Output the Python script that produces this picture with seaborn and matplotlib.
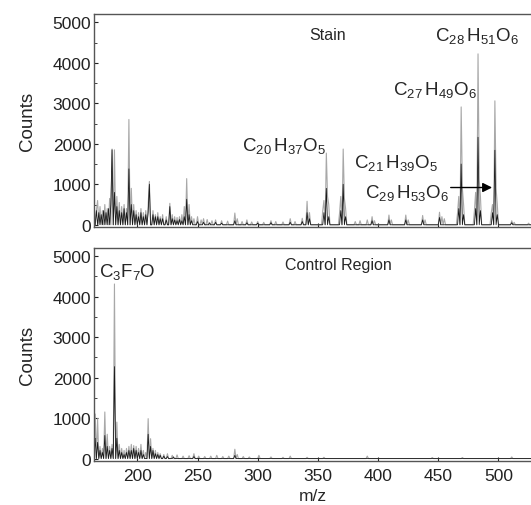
import matplotlib
matplotlib.use('Agg')

import matplotlib.pyplot as plt
import matplotlib.ticker as mticker
import seaborn as sns

sns.set_style('ticks')
plt.rcParams['font.family'] = ['Liberation Sans', 'DejaVu Sans']
plt.rcParams['mathtext.fontset'] = 'custom'
plt.rcParams['mathtext.rm'] = 'Liberation Sans'

# ---------------- data (m/z, counts) ----------------
stain_grey_mz = [166, 167, 169, 171, 173, 175, 177, 179, 181, 183, 185, 187, 189, 191,
                 193, 195, 197, 199, 201, 203, 205, 207, 209, 210, 213, 215, 217, 219,
                 221, 224, 227, 229, 231, 233, 235, 237, 239, 241, 243, 245, 247, 250,
                 253, 255, 258, 262, 265, 270, 275, 281, 283, 287, 291, 295, 300, 305,
                 311, 315, 321, 327, 331, 337, 341, 343, 354, 355, 357, 358, 359, 368,
                 369, 371, 372, 373, 381, 385, 391, 395, 397, 409, 411, 423, 425, 437,
                 439, 451, 453, 455, 466, 467, 469, 470, 471, 480, 481, 483, 484, 485,
                 494, 495, 497, 498, 499, 511, 513, 525]
stain_grey_counts = [350, 600, 450, 350, 500, 400, 650, 1870, 1850, 700, 550, 450, 500, 400,
                     2600, 900, 500, 350, 300, 400, 300, 350, 500, 1070, 350, 250, 300, 200,
                     250, 200, 530, 250, 200, 180, 200, 250, 450, 1140, 500, 200, 150, 200,
                     120, 150, 130, 100, 120, 100, 90, 290, 150, 80, 120, 70, 80, 60,
                     100, 80, 70, 150, 80, 160, 580, 300, 350, 600, 1770, 700, 500, 300,
                     700, 1870, 650, 400, 80, 100, 120, 200, 100, 240, 120, 240, 120, 230,
                     120, 310, 200, 150, 300, 700, 2910, 900, 500, 350, 800, 4220, 1100, 700,
                     300, 500, 3060, 900, 500, 100, 60, 40]

stain_black_mz = [166, 168, 170, 172, 174, 176, 178, 179, 181, 183, 185, 187, 189, 191,
                  193, 195, 197, 199, 201, 203, 205, 207, 209, 210, 213, 215, 217, 219,
                  221, 224, 227, 229, 231, 233, 235, 237, 239, 241, 243, 245, 250, 255,
                  260, 265, 270, 281, 291, 300, 311, 327, 337, 341, 343, 355, 357, 359,
                  369, 371, 373, 395, 409, 423, 437, 451, 467, 469, 471, 481, 483, 485,
                  495, 497, 499, 511]
stain_black_counts = [350, 300, 250, 350, 300, 400, 500, 1850, 800, 450, 350, 300, 400, 300,
                      1380, 500, 350, 250, 200, 300, 200, 250, 300, 1000, 250, 200, 200, 150,
                      150, 120, 450, 150, 120, 100, 130, 100, 200, 630, 250, 100, 80, 60,
                      50, 60, 40, 100, 50, 40, 50, 60, 80, 300, 150, 300, 900, 200,
                      350, 1000, 200, 100, 120, 120, 120, 180, 400, 1500, 250, 400, 2160, 350,
                      300, 1840, 250, 50]

control_grey_mz = [165, 167, 169, 171, 173, 175, 177, 179, 181, 183, 185, 187, 189, 191,
                   193, 195, 197, 199, 201, 203, 205, 207, 209, 211, 213, 215, 217, 219,
                   222, 225, 229, 233, 238, 243, 247, 251, 256, 261, 266, 271, 276, 281,
                   283, 288, 293, 301, 311, 321, 327, 341, 355, 391, 445, 470, 511]
control_grey_counts = [1100, 985, 300, 250, 1150, 600, 300, 350, 4310, 900, 350, 250, 200, 250,
                       300, 350, 320, 300, 250, 350, 200, 150, 985, 490, 250, 200, 150, 120,
                       100, 120, 80, 90, 60, 70, 120, 60, 50, 60, 80, 50, 60, 230,
                       100, 50, 40, 80, 40, 30, 60, 30, 30, 60, 25, 25, 40]

control_black_mz = [165, 167, 169, 171, 173, 175, 177, 179, 181, 183, 185, 187, 189, 191,
                    193, 195, 197, 199, 201, 203, 205, 209, 211, 213, 215, 217, 219, 222,
                    225, 230, 247, 281]
control_black_counts = [500, 400, 200, 150, 570, 300, 200, 250, 2270, 500, 200, 150, 100, 150,
                        200, 200, 250, 200, 150, 200, 100, 600, 300, 200, 120, 100, 80, 60,
                        50, 40, 50, 80]

x_ticks = [200, 250, 300, 350, 400, 450, 500]
y_ticks = [0, 1000, 2000, 3000, 4000, 5000]

# ---------------- figure ----------------
fig = plt.figure(figsize=(5.31, 5.06), dpi=100)
ax_top = fig.add_axes([0.177, 0.549, 0.823, 0.421])
ax_bot = fig.add_axes([0.177, 0.087, 0.823, 0.421])

spec = dict(binwidth=1, binrange=(160.5, 530.5), element='poly', fill=False, stat='count')

sns.histplot(x=stain_grey_mz, weights=stain_grey_counts, ax=ax_top,
             color='#a8a8a8', linewidth=0.8, **spec)
sns.histplot(x=stain_black_mz, weights=stain_black_counts, ax=ax_top,
             color='#1a1a1a', linewidth=0.6, **spec)
sns.histplot(x=control_grey_mz, weights=control_grey_counts, ax=ax_bot,
             color='#a8a8a8', linewidth=0.8, **spec)
sns.histplot(x=control_black_mz, weights=control_black_counts, ax=ax_bot,
             color='#1a1a1a', linewidth=0.6, **spec)

for ax in (ax_top, ax_bot):
    ax.set_xlim(164, 527)
    ax.set_ylim(-60, 5200)
    ax.set_yticks(y_ticks)
    ax.yaxis.set_minor_locator(mticker.MultipleLocator(500))
    ax.set_xticks(x_ticks)
    ax.tick_params(axis='both', direction='in', length=3, width=0.8, labelsize=12.5,
                   colors='#222222')
    ax.tick_params(axis='y', which='minor', direction='in', length=2, width=0.6)
    ax.tick_params(axis='y', pad=2)
    ax.tick_params(axis='x', pad=5)
    for side in ('left', 'top', 'bottom'):
        ax.spines[side].set_color('#555555')
        ax.spines[side].set_linewidth(1.0)
    ax.spines['right'].set_visible(False)
    ax.set_ylabel('Counts', fontsize=13.5, labelpad=12)

ax_top.set_xlabel('')
ax_top.set_xticklabels([])
ax_bot.set_xlabel('m/z', fontsize=12.5, labelpad=4)

# labels on the stain spectrum
ax_top.text(358, 4710, 'Stain', fontsize=11.5, ha='center', va='center')
ax_top.text(482, 4680, r'$\mathregular{C_{28}\,H_{51}O_6}$', fontsize=13.5, ha='center', va='center')
ax_top.text(447, 3350, r'$\mathregular{C_{27}\,H_{49}O_6}$', fontsize=13.5, ha='center', va='center')
ax_top.text(322, 1970, r'$\mathregular{C_{20}\,H_{37}O_5}$', fontsize=13.5, ha='center', va='center')
ax_top.text(415, 1550, r'$\mathregular{C_{21}\,H_{39}O_5}$', fontsize=13.5, ha='center', va='center')
ax_top.text(424, 800, r'$\mathregular{C_{29}\,H_{53}O_6}$', fontsize=13.5, ha='center', va='center')
ax_top.annotate('', xy=(497, 920), xytext=(458, 920),
                arrowprops=dict(arrowstyle='-|>', color='black', lw=1.0, mutation_scale=14))

# labels on the control spectrum
ax_bot.text(192, 4630, r'$\mathregular{C_3F_7O}$', fontsize=13.5, ha='center', va='center')
ax_bot.text(367, 4800, 'Control Region', fontsize=11.5, ha='center', va='center')

fig.savefig('out.png', dpi=100)
plt.close(fig)
